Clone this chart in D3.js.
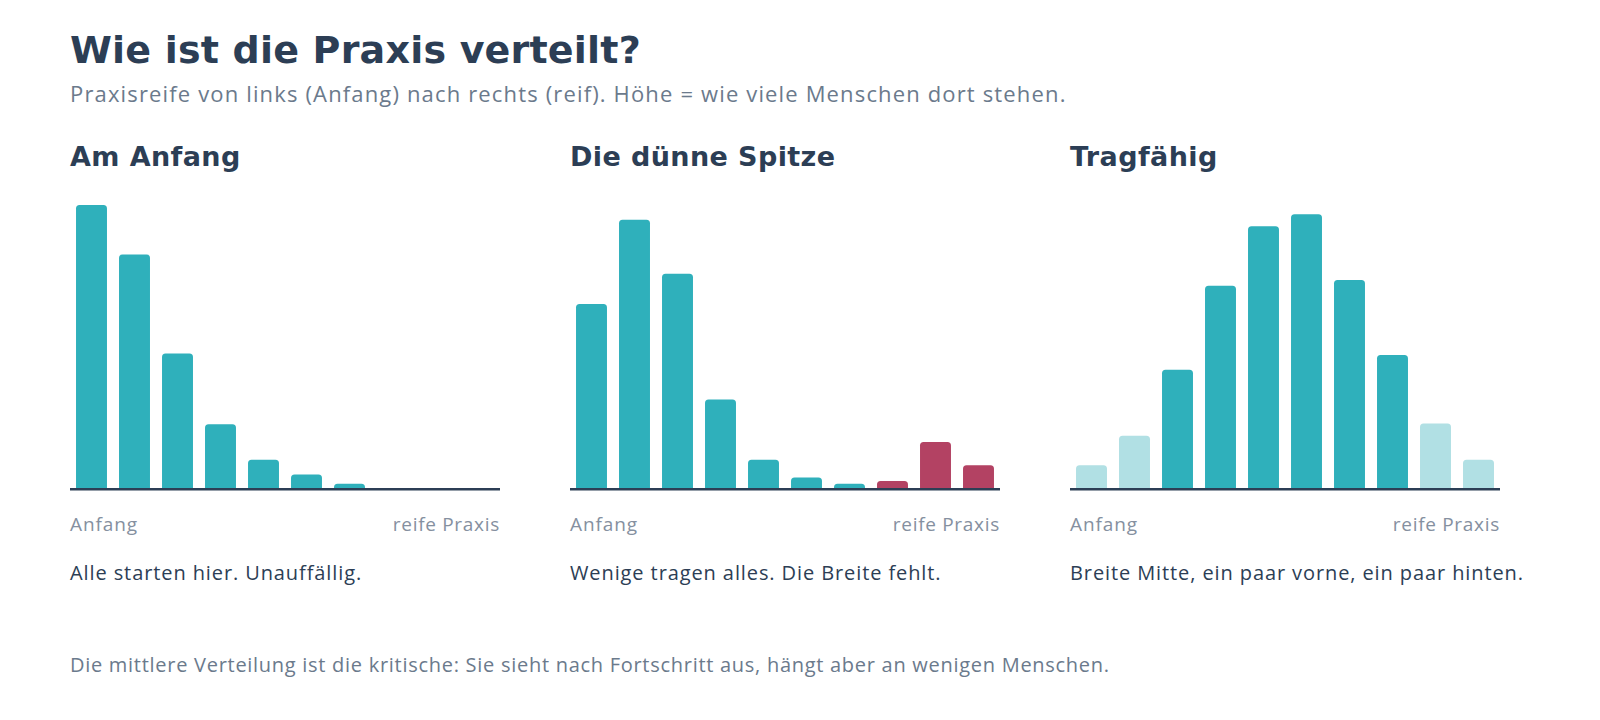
<!DOCTYPE html>
<html>
<head>
<meta charset="utf-8">
<script src="https://cdn.jsdelivr.net/npm/d3@7"></script>
<style>
  html, body { margin: 0; padding: 0; background: #fff; }
  svg { display: block; }
</style>
</head>
<body>
<svg id="chart" width="1600" height="720"></svg>
<script>
"use strict";

// Data: ten maturity steps, left = beginning, right = mature practice
const steps = d3.range(1, 11);
const panelTitles = ["Am Anfang", "Die dünne Spitze", "Tragfähig"];
const panelNotes = [
  "Alle starten hier. Unauffällig.",
  "Wenige tragen alles. Die Breite fehlt.",
  "Breite Mitte, ein paar vorne, ein paar hinten."
];
const anfangValues = [40, 33, 19, 9, 4, 1.9, 0.6, 0, 0, 0];
const spitzeValues = [26, 37.9, 30.3, 12.5, 4, 1.5, 0.6, 1, 6.5, 3.2];
const tragValues = [3.2, 7.4, 16.7, 28.6, 37, 38.7, 29.4, 18.8, 9.1, 4];
// which bars are set apart: "kern" normal, "rand" faded edge, "spitze" the thin top
const anfangGroups = ["kern", "kern", "kern", "kern", "kern", "kern", "kern", "kern", "kern", "kern"];
const spitzeGroups = ["kern", "kern", "kern", "kern", "kern", "kern", "kern", "spitze", "spitze", "spitze"];
const tragGroups = ["rand", "rand", "kern", "kern", "kern", "kern", "kern", "kern", "rand", "rand"];
const axisLabels = ["Anfang", "reife Praxis"];

const title = "Wie ist die Praxis verteilt?";
const subtitle = "Praxisreife von links (Anfang) nach rechts (reif). Höhe = wie viele Menschen dort stehen.";
const footer = "Die mittlere Verteilung ist die kritische: Sie sieht nach Fortschritt aus, hängt aber an wenigen Menschen.";

(function () {
  const panels = [
    {values: anfangValues, groups: anfangGroups},
    {values: spitzeValues, groups: spitzeGroups},
    {values: tragValues, groups: tragGroups}
  ];

  const colors = {kern: "#2fb0bb", rand: "#b1e0e4", spitze: "#b34263"};
  const ink = "#2c3e55";
  const grey = "#6b7a8c";
  const headFont = "'DejaVu Sans', Inter, sans-serif";
  const bodyFont = "'Open Sans', 'Noto Sans', sans-serif";

  const svg = d3.select("#chart");

  const left = 70, panelW = 430, panelGap = 70;
  const baseY = 488, topY = 205;

  svg.append("text")
    .attr("x", left).attr("y", 63)
    .attr("font-family", headFont).attr("font-weight", 700)
    .attr("font-size", 38).attr("letter-spacing", 0.2).attr("fill", ink)
    .text(title);

  svg.append("text")
    .attr("x", left).attr("y", 102)
    .attr("font-family", bodyFont).attr("font-weight", 400)
    .attr("font-size", 22).attr("letter-spacing", 1.15).attr("fill", grey)
    .text(subtitle);

  const y = d3.scaleLinear()
    .domain([0, d3.max(panels, p => d3.max(p.values))])
    .range([baseY, topY]);

  // bar with rounded top corners only
  function barPath(x, w, yTop, r) {
    const h = baseY - yTop;
    if (h <= 0) return "";
    const rr = Math.min(r, h, w / 2);
    return `M${x},${baseY} V${yTop + rr} Q${x},${yTop} ${x + rr},${yTop} ` +
      `H${x + w - rr} Q${x + w},${yTop} ${x + w},${yTop + rr} V${baseY} Z`;
  }

  panels.forEach((p, i) => {
    const x0 = left + i * (panelW + panelGap);
    const g = svg.append("g");

    const x = d3.scaleBand()
      .domain(steps)
      .range([x0, x0 + panelW])
      .paddingInner(0.28)
      .paddingOuter(0.14);

    g.append("text")
      .attr("x", x0).attr("y", 166)
      .attr("font-family", headFont).attr("font-weight", 700)
      .attr("font-size", 27).attr("letter-spacing", 0.4).attr("fill", ink)
      .text(panelTitles[i]);

    g.selectAll("path.bar")
      .data(steps.map((s, k) => ({s, v: p.values[k], grp: p.groups[k]})))
      .enter().append("path")
      .attr("class", "bar")
      .attr("d", d => barPath(x(d.s), x.bandwidth(), y(d.v), 3.5))
      .attr("fill", d => colors[d.grp]);

    g.append("line")
      .attr("x1", x0).attr("x2", x0 + panelW)
      .attr("y1", baseY + 1.2).attr("y2", baseY + 1.2)
      .attr("stroke", ink).attr("stroke-width", 2.5);

    g.append("text")
      .attr("x", x0).attr("y", 531)
      .attr("font-family", bodyFont).attr("font-size", 19)
      .attr("letter-spacing", 0.9).attr("fill", "#8590a0")
      .text(axisLabels[0]);
    g.append("text")
      .attr("x", x0 + panelW).attr("y", 531)
      .attr("text-anchor", "end")
      .attr("font-family", bodyFont).attr("font-size", 19)
      .attr("letter-spacing", 0.7).attr("fill", "#8590a0")
      .text(axisLabels[1]);

    g.append("text")
      .attr("x", x0).attr("y", 580)
      .attr("font-family", bodyFont).attr("font-size", 20)
      .attr("letter-spacing", 0.9).attr("fill", ink)
      .text(panelNotes[i]);
  });

  svg.append("text")
    .attr("x", left).attr("y", 672)
    .attr("font-family", bodyFont).attr("font-size", 20)
    .attr("letter-spacing", 0.72).attr("fill", grey)
    .text(footer);
})();
</script>
</body>
</html>
